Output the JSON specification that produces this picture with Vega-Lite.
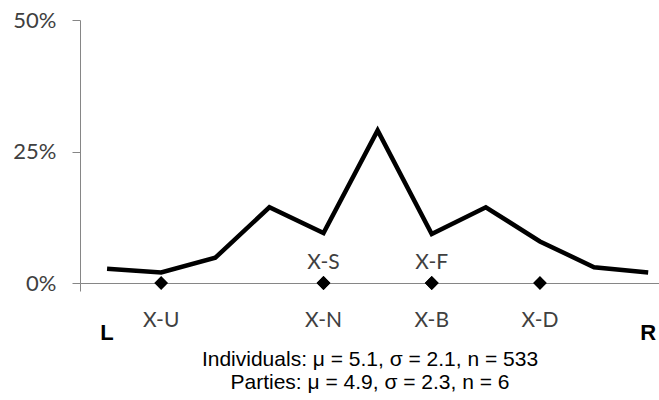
{
  "$schema": "https://vega.github.io/schema/vega-lite/v6.json",
  "width": 579,
  "height": 263,
  "autosize": {"type": "none"},
  "padding": {"left": 80, "top": 20, "right": 0, "bottom": 117},
  "background": "white",
  "config": {"view": {"stroke": null}},
  "datasets": {
    "individuals": [
      {"position": 0, "share": 2.7},
      {"position": 1, "share": 2.0},
      {"position": 2, "share": 4.8},
      {"position": 3, "share": 14.4},
      {"position": 4, "share": 9.5},
      {"position": 5, "share": 29.0},
      {"position": 6, "share": 9.3},
      {"position": 7, "share": 14.4},
      {"position": 8, "share": 7.9},
      {"position": 9, "share": 3.0},
      {"position": 10, "share": 2.0}
    ],
    "parties": [
      {"party": "X-U", "position": 1, "tier": "lower"},
      {"party": "X-N", "position": 4, "tier": "lower"},
      {"party": "X-S", "position": 4, "tier": "upper"},
      {"party": "X-B", "position": 6, "tier": "lower"},
      {"party": "X-F", "position": 6, "tier": "upper"},
      {"party": "X-D", "position": 8, "tier": "lower"}
    ],
    "ends": [
      {"label": "L", "position": 0},
      {"label": "R", "position": 10}
    ]
  },
  "layer": [
    {
      "data": {"name": "individuals"},
      "mark": {"type": "line", "color": "black", "strokeWidth": 4.5, "strokeJoin": "miter"},
      "encoding": {
        "x": {
          "field": "position", "type": "quantitative",
          "scale": {"domain": [-0.5, 10.2], "nice": false, "zero": false},
          "axis": {
            "values": [-0.5], "labels": false, "tickSize": 8, "grid": false,
            "tickColor": "#868686", "domainColor": "#868686",
            "title": ["Individuals: μ = 5.1, σ = 2.1, n = 533", "Parties: μ = 4.9, σ = 2.3, n = 6"],
            "titleFont": "Liberation Sans", "titleFontSize": 21, "titleFontWeight": "normal",
            "titleColor": "black", "titleLineHeight": 23, "titlePadding": 57
          }
        },
        "y": {
          "field": "share", "type": "quantitative",
          "scale": {"domain": [0, 50], "nice": false},
          "axis": {
            "values": [0, 25, 50], "labelExpr": "datum.value + '%'", "title": null, "grid": false,
            "tickSize": 8, "tickColor": "#868686", "domainColor": "#868686",
            "labelFont": "Lato", "labelFontSize": 22, "labelColor": "#404040", "labelPadding": 16
          }
        }
      }
    },
    {
      "data": {"name": "parties"},
      "mark": {"type": "point", "shape": "diamond", "filled": true, "color": "black", "size": 190, "opacity": 1},
      "encoding": {
        "x": {"field": "position", "type": "quantitative"},
        "y": {"datum": 0, "type": "quantitative"}
      }
    },
    {
      "data": {"name": "parties"},
      "transform": [{"filter": "datum.tier == 'lower'"}],
      "mark": {"type": "text", "font": "Lato", "fontSize": 21, "color": "#404040", "dy": 38, "baseline": "middle"},
      "encoding": {
        "x": {"field": "position", "type": "quantitative"},
        "y": {"datum": 0, "type": "quantitative"},
        "text": {"field": "party"}
      }
    },
    {
      "data": {"name": "parties"},
      "transform": [{"filter": "datum.tier == 'upper'"}],
      "mark": {"type": "text", "font": "Lato", "fontSize": 21, "color": "#404040", "dy": -20, "baseline": "middle"},
      "encoding": {
        "x": {"field": "position", "type": "quantitative"},
        "y": {"datum": 0, "type": "quantitative"},
        "text": {"field": "party"}
      }
    },
    {
      "data": {"name": "ends"},
      "mark": {"type": "text", "font": "Liberation Sans", "fontSize": 22, "fontWeight": "bold", "color": "black", "dy": 50, "baseline": "middle"},
      "encoding": {
        "x": {"field": "position", "type": "quantitative"},
        "y": {"datum": 0, "type": "quantitative"},
        "text": {"field": "label"}
      }
    }
  ]
}
